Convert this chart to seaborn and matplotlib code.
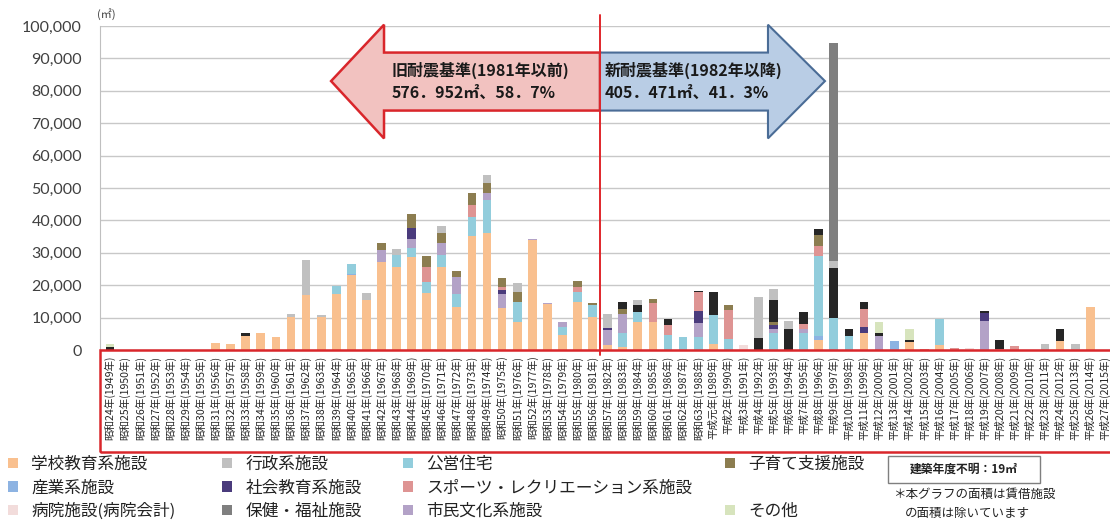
import matplotlib
matplotlib.use("Agg")
import matplotlib.pyplot as plt
from matplotlib.patches import Patch, Polygon, Rectangle
from matplotlib.ticker import FuncFormatter
import pandas as pd
import seaborn as sns

# Construction year categories (Showa / Heisei era with western year)
year_labels = [
    "昭和24年(1949年)", "昭和25年(1950年)", "昭和26年(1951年)", "昭和27年(1952年)", "昭和28年(1953年)",
    "昭和29年(1954年)", "昭和30年(1955年)", "昭和31年(1956年)", "昭和32年(1957年)", "昭和33年(1958年)",
    "昭和34年(1959年)", "昭和35年(1960年)", "昭和36年(1961年)", "昭和37年(1962年)", "昭和38年(1963年)",
    "昭和39年(1964年)", "昭和40年(1965年)", "昭和41年(1966年)", "昭和42年(1967年)", "昭和43年(1968年)",
    "昭和44年(1969年)", "昭和45年(1970年)", "昭和46年(1971年)", "昭和47年(1972年)", "昭和48年(1973年)",
    "昭和49年(1974年)", "昭和50年(1975年)", "昭和51年(1976年)", "昭和52年(1977年)", "昭和53年(1978年)",
    "昭和54年(1979年)", "昭和55年(1980年)", "昭和56年(1981年)", "昭和57年(1982年)", "昭和58年(1983年)",
    "昭和59年(1984年)", "昭和60年(1985年)", "昭和61年(1986年)", "昭和62年(1987年)", "昭和63年(1988年)",
    "平成元年(1989年)", "平成2年(1990年)", "平成3年(1991年)", "平成4年(1992年)", "平成5年(1993年)",
    "平成6年(1994年)", "平成7年(1995年)", "平成8年(1996年)", "平成9年(1997年)", "平成10年(1998年)",
    "平成11年(1999年)", "平成12年(2000年)", "平成13年(2001年)", "平成14年(2002年)", "平成15年(2003年)",
    "平成16年(2004年)", "平成17年(2005年)", "平成18年(2006年)", "平成19年(2007年)", "平成20年(2008年)",
    "平成21年(2009年)", "平成22年(2010年)", "平成23年(2011年)", "平成24年(2012年)", "平成25年(2013年)",
    "平成26年(2014年)", "平成27年(2015年)",
]

# Floor area (m2) by facility type, one value per construction year
school = [0, 0, 0, 0, 0, 0, 0, 2200, 1900, 4300,
          5400, 4100, 10300, 17000, 10300, 17300, 23100, 15400, 27300, 25700,
          28800, 17500, 25700, 13400, 35200, 36000, 12900, 8700, 34000, 14200,
          4700, 14900, 10300, 1500, 1000, 8700, 8700, 0, 0, 0,
          1700, 0, 0, 0, 0, 0, 0, 3100, 0, 0,
          5400, 0, 0, 2400, 0, 1500, 0, 0, 0, 0,
          0, 0, 0, 2900, 0, 13200, 0]
admin = [0, 0, 0, 0, 0, 0, 0, 0, 0, 0,
         0, 0, 800, 10800, 500, 0, 0, 2200, 0, 1800,
         0, 0, 2300, 0, 0, 2500, 0, 2800, 0, 0,
         0, 0, 0, 4100, 0, 1600, 0, 0, 0, 0,
         0, 0, 0, 12700, 3400, 2600, 0, 0, 2100, 0,
         0, 0, 0, 0, 0, 0, 0, 0, 0, 0,
         0, 0, 1800, 0, 1800, 0, 0]
housing = [0, 0, 0, 0, 0, 0, 0, 0, 0, 0,
           0, 0, 0, 0, 0, 2400, 3000, 0, 0, 3700,
           2600, 3600, 3600, 3900, 5900, 10300, 0, 6200, 0, 0,
           2500, 3100, 3700, 0, 4300, 3100, 0, 4600, 3900, 4100,
           9000, 3300, 0, 0, 5300, 0, 5100, 24700, 9800, 4200,
           0, 0, 0, 0, 0, 8100, 0, 0, 0, 0,
           0, 0, 0, 0, 0, 0, 0]
childcare = [0, 0, 0, 0, 0, 0, 0, 0, 0, 0,
             0, 0, 0, 0, 0, 0, 0, 0, 2100, 0,
             4100, 3300, 3100, 1900, 3700, 2900, 2900, 3100, 0, 0,
             0, 1800, 600, 0, 1600, 0, 1100, 0, 0, 0,
             0, 1400, 0, 0, 1000, 0, 0, 3300, 0, 0,
             0, 0, 0, 0, 0, 0, 0, 0, 0, 0,
             0, 0, 0, 0, 0, 0, 0]
industry = [0, 0, 0, 0, 0, 0, 0, 0, 0, 0,
            0, 0, 0, 0, 0, 0, 400, 0, 0, 0,
            0, 0, 0, 0, 0, 0, 0, 0, 0, 0,
            0, 0, 0, 0, 0, 0, 0, 0, 0, 0,
            0, 0, 0, 0, 0, 0, 0, 1300, 0, 0,
            0, 0, 2800, 0, 0, 0, 0, 0, 0, 0,
            0, 0, 0, 0, 0, 0, 0]
social_edu = [0, 0, 0, 0, 0, 0, 0, 0, 0, 0,
              0, 0, 0, 0, 0, 0, 0, 0, 0, 0,
              3400, 0, 0, 0, 0, 0, 1200, 0, 0, 0,
              0, 0, 0, 700, 0, 0, 0, 0, 0, 3600,
              0, 0, 0, 0, 1000, 0, 0, 0, 0, 0,
              1800, 0, 0, 0, 0, 0, 0, 0, 2300, 0,
              0, 0, 0, 0, 0, 0, 0]
sports = [0, 0, 0, 0, 0, 0, 0, 0, 0, 0,
          0, 0, 0, 0, 0, 0, 0, 0, 0, 0,
          0, 4600, 0, 0, 3600, 0, 900, 0, 0, 0,
          0, 1500, 0, 0, 0, 0, 5900, 3100, 0, 6100,
          0, 9200, 0, 0, 0, 0, 1500, 3100, 0, 0,
          5400, 0, 0, 0, 400, 0, 600, 0, 0, 200,
          1300, 0, 0, 0, 0, 0, 0]
hospital = [0, 0, 0, 0, 0, 0, 0, 0, 0, 0,
            0, 0, 0, 0, 0, 0, 0, 0, 0, 0,
            0, 0, 0, 0, 0, 0, 0, 0, 0, 0,
            0, 0, 0, 0, 0, 0, 0, 0, 0, 0,
            0, 0, 1500, 0, 0, 0, 0, 0, 0, 0,
            0, 0, 0, 0, 0, 0, 0, 600, 0, 0,
            0, 0, 0, 0, 0, 0, 0]
welfare = [0, 0, 0, 0, 0, 0, 0, 0, 0, 0,
           0, 0, 0, 0, 0, 0, 0, 0, 0, 0,
           0, 0, 0, 0, 0, 0, 0, 0, 0, 0,
           0, 0, 0, 0, 0, 0, 0, 0, 0, 0,
           0, 0, 0, 0, 0, 0, 0, 0, 67400, 0,
           0, 0, 0, 0, 0, 0, 0, 0, 0, 0,
           0, 0, 0, 0, 0, 0, 0]
culture = [0, 0, 0, 0, 0, 0, 0, 0, 0, 0,
           0, 0, 0, 0, 0, 0, 0, 0, 3600, 0,
           3000, 0, 3600, 5300, 0, 2300, 4400, 0, 200, 400,
           1500, 0, 0, 4700, 5900, 0, 0, 0, 0, 4200,
           0, 0, 0, 0, 1300, 0, 1500, 0, 0, 0,
           0, 4400, 0, 0, 0, 0, 0, 0, 9000, 0,
           0, 0, 0, 0, 0, 0, 0]
other = [1100, 0, 0, 0, 0, 0, 0, 0, 0, 0,
         0, 0, 0, 0, 0, 0, 0, 0, 0, 0,
         0, 0, 0, 0, 0, 0, 0, 0, 0, 0,
         0, 0, 0, 0, 0, 0, 0, 0, 0, 0,
         0, 0, 0, 0, 0, 0, 0, 0, 0, 0,
         0, 3500, 0, 3400, 0, 0, 0, 0, 0, 0,
         0, 0, 0, 0, 0, 0, 0]
unclassified = [900, 0, 0, 0, 0, 0, 0, 0, 0, 800,
                0, 0, 0, 0, 0, 0, 0, 0, 0, 0,
                0, 0, 0, 0, 0, 0, 0, 0, 0, 0,
                0, 0, 0, 0, 1900, 2000, 0, 1900, 200, 200,
                7300, 0, 0, 3600, 6700, 6400, 3500, 1800, 15500, 2300,
                2300, 800, 0, 700, 0, 0, 0, 0, 700, 2900,
                0, 0, 0, 3600, 0, 0, 0]

# Series in stacking order, bottom to top
series = [
    ("学校教育系施設", school, "#F9C08F"),
    ("産業系施設", industry, "#8DB3E2"),
    ("公営住宅", housing, "#92CDDC"),
    ("市民文化系施設", culture, "#B3A2C7"),
    ("社会教育系施設", social_edu, "#4A3B7C"),
    ("スポーツ・レクリエーション系施設", sports, "#DE9493"),
    ("病院施設(病院会計)", hospital, "#F2DCDB"),
    ("子育て支援施設", childcare, "#8C7D50"),
    ("分類外", unclassified, "#262626"),
    ("その他", other, "#D7E4BD"),
    ("行政系施設", admin, "#C0C0C0"),
    ("保健・福祉施設", welfare, "#7F7F7F"),
]
colors = {name: c for name, _, c in series}

rows = []
for name, vals, _ in series:
    for i, v in enumerate(vals):
        rows.append({"idx": i, "type": name, "area": v})
df = pd.DataFrame(rows)

sns.set_style("white")
plt.rcParams["font.family"] = ["Noto Sans CJK JP", "DejaVu Sans"]

fig = plt.figure(figsize=(11.1, 5.26), dpi=100)
ax = fig.add_axes([100 / 1110, 176 / 526, 1010 / 1110, 324 / 526])

# seaborn stacks the first hue level on top, so pass the order reversed
hue_order = [name for name, _, _ in series][::-1]
sns.histplot(data=df, x="idx", weights="area", hue="type", hue_order=hue_order,
             palette=colors, multiple="stack", discrete=True, shrink=0.58,
             alpha=1, linewidth=0, legend=False, ax=ax)

ax.set_xlim(-0.663, 66.31)
ax.set_ylim(0, 100000)
ax.set_xlabel("")
ax.set_ylabel("")
ax.set_yticks(range(0, 100001, 10000))
ax.yaxis.set_major_formatter(FuncFormatter(lambda v, p: f"{int(v):,}"))
ax.set_xticks(range(len(year_labels)))
ax.set_xticklabels(year_labels, rotation=90, fontsize=7.6, va="top", ha="center")
ax.tick_params(axis="x", length=0, pad=4)
ax.tick_params(axis="y", length=4, color="#BFBFBF", width=1, labelsize=11.5,
               labelcolor="#404040", pad=9)
for lbl in ax.get_yticklabels():
    lbl.set_family("Lato")
ax.grid(axis="y", color="#C8C8C8", lw=1)
ax.grid(axis="x", visible=False)
ax.set_axisbelow(True)
for s in ["top", "right", "bottom"]:
    ax.spines[s].set_visible(False)
ax.spines["left"].set_color("#BFBFBF")

# Old / new seismic standard arrows
left_arrow = [(14.66, 83000), (18.17, 100400), (18.17, 91800), (32.49, 91800),
              (32.49, 73900), (18.17, 73900), (18.17, 65300)]
right_arrow = [(32.49, 91800), (43.63, 91800), (43.63, 100400), (47.41, 83000),
               (43.63, 65300), (43.63, 73900), (32.49, 73900)]
ax.add_patch(Polygon(left_arrow, closed=True, facecolor="#F2C2C0", edgecolor="#D9262B",
                     lw=1.8, clip_on=False, zorder=5))
ax.add_patch(Polygon(right_arrow, closed=True, facecolor="#B9CDE5", edgecolor="#4A6C96",
                     lw=1.5, clip_on=False, zorder=5))
ax.plot([32.5, 32.5], [-1500, 103500], color="#E0262B", lw=1.4, clip_on=False, zorder=6)
ax.text(18.7, 86300, "旧耐震基準(1981年以前)", fontsize=11.5, fontweight="bold",
        color="#1A1A1A", va="center", ha="left", zorder=7)
ax.text(18.7, 79300, "576．952㎡、58．7%", fontsize=11.5, fontweight="bold",
        color="#1A1A1A", va="center", ha="left", zorder=7)
ax.text(32.8, 86300, "新耐震基準(1982年以降)", fontsize=11.5, fontweight="bold",
        color="#1A1A1A", va="center", ha="left", zorder=7)
ax.text(32.8, 79300, "405．471㎡、41．3%", fontsize=11.5, fontweight="bold",
        color="#1A1A1A", va="center", ha="left", zorder=7)

# unit
fig.text(106 / 1110, 1 - 14 / 526, "(㎡)", fontsize=8, color="#404040",
         ha="center", va="center")

# red frame around the year labels
fig.add_artist(Rectangle((100 / 1110, (526 - 452) / 526), 1.0, (452 - 350) / 526,
                         transform=fig.transFigure, fill=False, edgecolor="#D9262B",
                         lw=1.8, clip_on=False))

# legend in four columns
def col_legend(entries, x_px):
    handles = []
    labels = []
    for name in entries:
        if name is None:
            handles.append(Patch(facecolor="none", edgecolor="none"))
            labels.append("")
        else:
            handles.append(Patch(facecolor=colors[name], edgecolor="none"))
            labels.append(name)
    fig.legend(handles, labels, loc="upper left", bbox_to_anchor=(x_px / 1110, 1 - 456 / 526),
               frameon=False, fontsize=12, handlelength=0.6, handleheight=0.6,
               handletextpad=0.8, labelspacing=0.38, borderpad=0, borderaxespad=0,
               labelcolor="#222222")

col_legend(["学校教育系施設", "産業系施設", "病院施設(病院会計)"], 8)
col_legend(["行政系施設", "社会教育系施設", "保健・福祉施設"], 222)
col_legend(["公営住宅", "スポーツ・レクリエーション系施設", "市民文化系施設"], 403)
col_legend(["子育て支援施設", None, "その他"], 725)

# unknown-year box and note
fig.add_artist(Rectangle((888 / 1110, (526 - 483) / 526), 152 / 1110, 27 / 526,
                         transform=fig.transFigure, facecolor="white",
                         edgecolor="#7F7F7F", lw=1))
fig.text(964 / 1110, 1 - 469.5 / 526, "建築年度不明：19㎡", fontsize=8.5,
         fontweight="bold", color="#222222", ha="center", va="center")
fig.text(893 / 1110, 1 - 494 / 526, "＊本グラフの面積は賃借施設", fontsize=9,
         color="#222222", ha="left", va="center")
fig.text(905 / 1110, 1 - 513 / 526, "の面積は除いています", fontsize=9,
         color="#222222", ha="left", va="center")

fig.savefig("out.png", dpi=100)
